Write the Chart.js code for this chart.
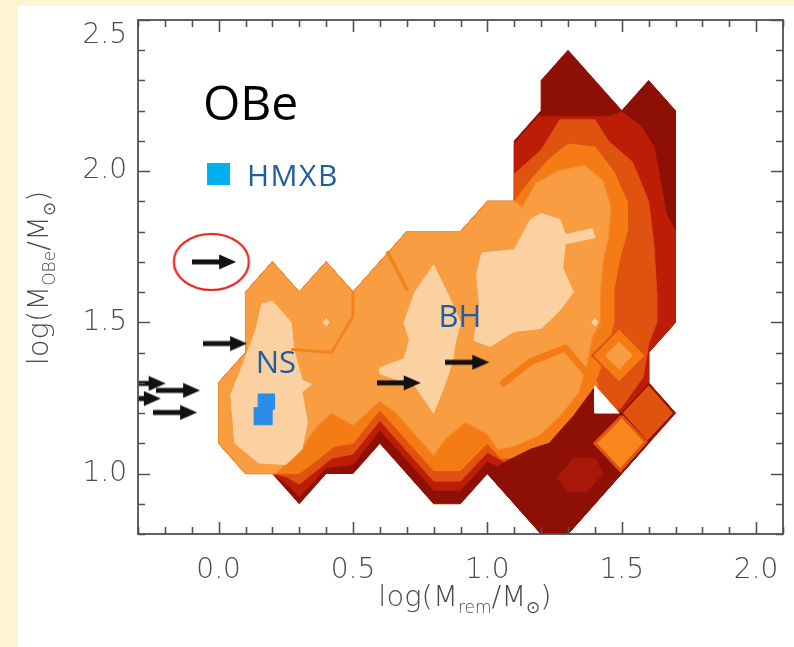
<!DOCTYPE html>
<html>
<head>
<meta charset="utf-8">
<script src="https://cdn.jsdelivr.net/npm/chart.js@4.4.1/dist/chart.umd.min.js"></script>
<style>
  html, body { margin: 0; padding: 0; background: #fff; }
  #wrap { position: relative; width: 794px; height: 647px; }
</style>
</head>
<body>
<div id="wrap"><canvas id="c"></canvas></div>
<script>
// ---- axes ----
const xRange = [-0.3, 2.1];
const yRange = [0.8, 2.5];
const xTickLabels = [0.0, 0.5, 1.0, 1.5, 2.0];
const yTickLabels = [1.0, 1.5, 2.0, 2.5];
const minorStep = 0.1;
const majorStep = 0.5;

// ---- density contours, log(M_rem) vs log(M_OBe), outermost level first ----
const levelMaroon = [[0.2,1.7],[0.3,1.6],[0.4,1.7],[0.5,1.6],[0.7,1.8],[0.9,1.8],[1.0,1.9],[1.1,1.9],[1.1,2.1],[1.2,2.2],[1.2,2.3],[1.3,2.4],[1.5,2.2],[1.6,2.3],[1.7,2.2],[1.7,1.5],[1.6,1.4],[1.6,1.3],[1.7,1.2],[1.3,0.8],[1.2,0.8],[1.0,1.0],[0.9,0.9],[0.8,0.9],[0.6,1.1],[0.5,1.0],[0.4,1.0],[0.3,0.9],[0.2,1.0],[0.1,1.0],[0.0,1.1],[0.0,1.3],[0.1,1.4],[0.1,1.6]];
const levelRed = [[0.2,1.7],[0.3,1.6],[0.4,1.7],[0.5,1.6],[0.7,1.8],[0.9,1.8],[1.0,1.9],[1.1,1.9],[1.1,2.09],[1.19,2.18],[1.28,2.18],[1.45,2.18],[1.5,2.195],[1.57,2.15],[1.62,2.08],[1.645,1.96],[1.665,1.86],[1.7,1.8],[1.7,1.5],[1.6,1.4],[1.6,1.3],[1.7,1.2],[1.45,1.1],[1.1,1.0],[1.0,1.04],[0.9,0.945],[0.8,0.945],[0.6,1.145],[0.5,1.03],[0.4,1.02],[0.34,0.96],[0.3,0.925],[0.26,0.96],[0.2,1.0],[0.1,1.0],[0.0,1.1],[0.0,1.3],[0.1,1.4],[0.1,1.6]];
const levelDark = [[0.2,1.7],[0.3,1.6],[0.4,1.7],[0.5,1.6],[0.7,1.8],[0.9,1.8],[1.0,1.9],[1.1,1.9],[1.1,1.99],[1.2,2.07],[1.27,2.17],[1.4,2.17],[1.45,2.1],[1.54,2.03],[1.6,1.9],[1.62,1.75],[1.63,1.6],[1.63,1.5],[1.6,1.43],[1.58,1.32],[1.5,1.22],[1.4,1.15],[1.1,1.02],[1.0,1.07],[0.9,0.975],[0.8,0.975],[0.6,1.175],[0.5,1.065],[0.42,1.05],[0.35,1.0],[0.3,0.965],[0.25,0.99],[0.2,1.0],[0.1,1.0],[0.0,1.1],[0.0,1.3],[0.1,1.4],[0.1,1.6]];
const levelOrange = [[0.2,1.7],[0.3,1.6],[0.4,1.7],[0.5,1.6],[0.7,1.8],[0.9,1.8],[1.0,1.9],[1.1,1.9],[1.16,1.97],[1.23,2.04],[1.3,2.09],[1.4,2.08],[1.47,2.0],[1.52,1.9],[1.52,1.8],[1.49,1.7],[1.47,1.6],[1.47,1.5],[1.45,1.42],[1.41,1.32],[1.35,1.2],[1.2,1.06],[1.05,1.05],[1.0,1.1],[0.9,1.01],[0.8,1.01],[0.6,1.21],[0.5,1.1],[0.43,1.09],[0.36,1.04],[0.3,1.0],[0.22,1.0],[0.1,1.0],[0.0,1.1],[0.0,1.3],[0.1,1.4],[0.1,1.6]];
const levelLight = [[0.2,1.7],[0.3,1.6],[0.4,1.7],[0.5,1.6],[0.7,1.8],[0.9,1.8],[1.0,1.9],[1.1,1.9],[1.13,1.88],[1.18,1.96],[1.26,2.0],[1.36,2.02],[1.43,1.97],[1.46,1.88],[1.45,1.78],[1.43,1.7],[1.42,1.6],[1.42,1.5],[1.39,1.45],[1.37,1.36],[1.34,1.27],[1.28,1.2],[1.2,1.13],[1.1,1.09],[1.04,1.08],[1.0,1.13],[0.92,1.17],[0.85,1.12],[0.8,1.06],[0.74,1.12],[0.66,1.2],[0.6,1.24],[0.5,1.16],[0.42,1.2],[0.36,1.15],[0.3,1.07],[0.21,1.0],[0.1,1.0],[0.0,1.1],[0.0,1.3],[0.1,1.4],[0.1,1.6]];
const peakNS = [[0.2,1.57],[0.27,1.5],[0.28,1.41],[0.31,1.31],[0.345,1.295],[0.31,1.27],[0.33,1.17],[0.31,1.08],[0.25,1.03],[0.15,1.035],[0.06,1.1],[0.045,1.26],[0.09,1.36],[0.14,1.48],[0.16,1.56]];
const peakBH1 = [[0.8,1.69],[0.86,1.58],[0.9,1.5],[0.88,1.43],[0.87,1.37],[0.84,1.29],[0.8,1.2],[0.73,1.29],[0.6,1.33],[0.6,1.35],[0.69,1.38],[0.71,1.44],[0.69,1.5],[0.73,1.6]];
const peakBH2 = [[0.98,1.73],[1.1,1.74],[1.16,1.84],[1.2,1.86],[1.27,1.84],[1.29,1.79],[1.39,1.81],[1.4,1.78],[1.29,1.76],[1.28,1.68],[1.32,1.6],[1.27,1.54],[1.2,1.48],[1.1,1.47],[1.01,1.42],[0.95,1.44],[0.97,1.56],[0.96,1.66]];
const ridgeNS = [[0.275,1.41],[0.42,1.40],[0.5,1.52],[0.5,1.6]];
const ridgeTop = [[0.63,1.73],[0.7,1.61]];
const ridgeBH = [[1.06,1.3],[1.16,1.37],[1.29,1.415],[1.39,1.31],[1.4,1.29]];
const tailMaroon = [[1.0,1.0],[1.2,0.8],[1.3,0.8],[1.6,1.1],[1.5,1.2],[1.4,1.2],[1.395,1.28],[1.32,1.19],[1.23,1.1],[1.16,1.08],[1.07,1.04]];
const tailRed = [[1.26,0.985],[1.32,1.05],[1.4,1.05],[1.43,1.0],[1.37,0.94],[1.3,0.94]];
const cellRight = [[1.6,1.295],[1.695,1.2],[1.595,1.105],[1.5,1.2]];
const cellLow = [[1.5,1.19],[1.59,1.105],[1.495,1.01],[1.4,1.1]];
const cellUp = [[1.49,1.48],[1.59,1.39],[1.49,1.3],[1.39,1.39]];
const cellUpCore = [[1.49,1.435],[1.54,1.39],[1.49,1.345],[1.44,1.39]];
const emptyCell = [[1.4,1.29],[1.4,1.2],[1.49,1.2]];
const dots = [[0.40,1.50],[1.40,1.50]];

// ---- observed HMXB and lower-limit arrows (arrow tip positions) ----
const hmxbUpper = [[0.147,1.263],[0.208,1.263],[0.208,1.213],[0.147,1.213]];
const hmxbLower = [[0.132,1.218],[0.198,1.218],[0.198,1.161],[0.132,1.161]];
const arrowTips = [[0.065,1.70],[0.106,1.43],[-0.197,1.298],[-0.069,1.275],[-0.215,1.248],[-0.080,1.202],[0.752,1.30],[1.007,1.368]];
const circledAt = [-0.027, 1.70];
const nsLabel = [0.138, 1.332];
const bhLabel = [0.818, 1.484];

const C = {
  maroon: '#8e1005', red: '#bd1d06', dark: '#df520f', orange: '#f57b14',
  light: '#f99d43', peach: '#fcd1a2', cell: '#f7861c', blue: '#2b8de8'
};

const layers = [];
function poly(pts, color, border, bw) {
  layers.push({
    data: pts.concat([pts[0]]).map(([x, y]) => ({x, y})),
    showLine: true, fill: 'shape', tension: 0,
    backgroundColor: color, borderColor: border || color, borderWidth: bw === undefined ? 1 : bw,
    pointRadius: 0
  });
}
function path(pts, color, bw) {
  layers.push({
    data: pts.map(([x, y]) => ({x, y})),
    showLine: true, fill: false, tension: 0,
    borderColor: color, borderWidth: bw, borderCapStyle: 'round', borderJoinStyle: 'round',
    pointRadius: 0
  });
}

poly(levelMaroon, C.maroon);
poly(levelRed, C.red);
poly(levelDark, C.dark);
poly(levelOrange, C.orange);
poly(levelLight, C.light, '#f3902f', 1.2);
poly(peakNS, C.peach);
poly(peakBH1, C.peach);
poly(peakBH2, C.peach);
path(ridgeNS, '#f2841f', 3);
path(ridgeTop, '#f2841f', 4);
path(ridgeBH, C.orange, 7);
poly(tailMaroon, C.maroon);
poly(tailRed, '#a9180a');
poly(cellRight, C.dark, C.maroon, 1.5);
poly(cellLow, C.cell, C.dark, 3);
poly(cellUp, C.orange, C.dark, 2);
poly(cellUpCore, C.light);
poly(emptyCell, '#ffffff');
dots.forEach(([x, y]) => poly([[x, y + 0.012], [x + 0.011, y], [x, y - 0.012], [x - 0.011, y]], C.peach));
poly(hmxbUpper, C.blue);
poly(hmxbLower, C.blue);

// layer i is painted before layer i+1
layers.forEach((d, i) => { d.order = layers.length - i + 10; });

// arrow marker: shaft + head, tip at the image centre
function makeArrow() {
  const L = 44, H = 16;
  const cv = document.createElement('canvas');
  cv.width = 2 * L; cv.height = H;
  const g = cv.getContext('2d');
  g.fillStyle = '#111';
  g.fillRect(0, H / 2 - 2.5, L - 15, 5);
  g.beginPath();
  g.moveTo(L - 17, 0.5); g.lineTo(L, H / 2); g.lineTo(L - 17, H - 0.5);
  g.closePath(); g.fill();
  return cv;
}
function makeRing() {
  const cv = document.createElement('canvas');
  cv.width = 82; cv.height = 62;
  const g = cv.getContext('2d');
  g.strokeStyle = '#e3231b'; g.lineWidth = 2.2;
  g.beginPath(); g.ellipse(41, 31, 37.5, 28, 0, 0, Math.PI * 2); g.stroke();
  return cv;
}

layers.push({
  data: [{x: circledAt[0], y: circledAt[1]}],
  pointStyle: makeRing(), pointRadius: 10, showLine: false, order: 2
});
layers.push({
  data: arrowTips.map(([x, y]) => ({x, y})),
  pointStyle: makeArrow(), pointRadius: 10, showLine: false, clip: 0, order: 1
});

const axisFont = {family: 'DejaVu Sans', size: 28, weight: 300};
const axisColor = '#4a4a4a';

const page = {
  id: 'page',
  beforeDraw(chart) {
    const {ctx, width, height} = chart;
    ctx.save();
    ctx.fillStyle = '#fdf5d2';
    ctx.fillRect(0, 0, width, height);
    ctx.fillStyle = '#ffffff';
    ctx.fillRect(18, 6, width - 18, height - 6);
    ctx.restore();
  }
};

const frame = {
  id: 'frame',
  afterDatasetsDraw(chart) {
    const {ctx, chartArea: a, scales: {x, y}} = chart;
    ctx.save();
    ctx.strokeStyle = '#505050';
    ctx.lineWidth = 1.6;
    ctx.beginPath();
    const isMajor = v => Math.abs(v / majorStep - Math.round(v / majorStep)) < 1e-6;
    const nx = Math.round((xRange[1] - xRange[0]) / minorStep);
    for (let i = 0; i <= nx; i++) {
      const v = xRange[0] + i * minorStep;
      const L = isMajor(v) ? 12 : 7;
      const p = Math.round(x.getPixelForValue(v)) + 0.5;
      ctx.moveTo(p, a.bottom); ctx.lineTo(p, a.bottom - L);
      ctx.moveTo(p, a.top); ctx.lineTo(p, a.top + L);
    }
    const ny = Math.round((yRange[1] - yRange[0]) / minorStep);
    for (let i = 0; i <= ny; i++) {
      const v = yRange[0] + i * minorStep;
      const L = isMajor(v) ? 12 : 7;
      const p = Math.round(y.getPixelForValue(v)) + 0.5;
      ctx.moveTo(a.left, p); ctx.lineTo(a.left + L, p);
      ctx.moveTo(a.right, p); ctx.lineTo(a.right - L, p);
    }
    ctx.stroke();
    ctx.lineWidth = 1.8;
    ctx.strokeRect(a.left, a.top, a.right - a.left, a.bottom - a.top);
    ctx.restore();
  }
};

function richText(ctx, parts, cx, baseY, angle) {
  let w = 0;
  parts.forEach(p => { ctx.font = `300 ${p[1]}px "DejaVu Sans"`; p.w = ctx.measureText(p[0]).width; w += p.w; });
  ctx.save();
  ctx.translate(cx, baseY);
  ctx.rotate(angle);
  let xx = -w / 2;
  parts.forEach(p => {
    ctx.font = `300 ${p[1]}px "DejaVu Sans"`;
    ctx.fillText(p[0], xx, p[2]);
    xx += p.w;
  });
  ctx.restore();
}

const notes = {
  id: 'notes',
  afterDraw(chart) {
    const {ctx, scales: {x, y}} = chart;
    ctx.save();
    ctx.textBaseline = 'alphabetic';
    ctx.textAlign = 'left';
    ctx.fillStyle = '#000';
    ctx.font = '48px "Open Sans"';
    ctx.fillText('OBe', 203, 120);
    ctx.fillStyle = '#00b0f0';
    ctx.fillRect(207, 163, 23, 22);
    ctx.fillStyle = '#1f5f9e';
    ctx.font = '30px "Open Sans"';
    ctx.letterSpacing = '1.5px';
    ctx.fillText('HMXB', 247, 186);
    ctx.letterSpacing = '0px';
    ctx.font = '31px "Open Sans"';
    ctx.fillText('NS', x.getPixelForValue(nsLabel[0]), y.getPixelForValue(nsLabel[1]));
    ctx.fillText('BH', x.getPixelForValue(bhLabel[0]), y.getPixelForValue(bhLabel[1]));
    ctx.fillStyle = axisColor;
    richText(ctx, [['log(M', 29, 0], ['rem', 17, 7], ['/M', 29, 0], ['\u2299', 17, 7], [')', 29, 0]], 465, 606, 0);
    richText(ctx, [['log(M', 29, 0], ['OBe', 17, 7], ['/M', 29, 0], ['\u2299', 17, 7], [')', 29, 0]], 48, 278, -Math.PI / 2);
    ctx.restore();
  }
};

new Chart(document.getElementById('c'), {
  type: 'scatter',
  data: { datasets: layers },
  options: {
    responsive: true,
    maintainAspectRatio: false,
    animation: false,
    events: [],
    layout: { padding: { top: 20, right: 3, left: 0, bottom: 0 } },
    plugins: { legend: { display: false }, tooltip: { enabled: false } },
    scales: {
      x: {
        type: 'linear', position: 'bottom', min: xRange[0], max: xRange[1],
        afterBuildTicks: s => { s.ticks = xTickLabels.map(v => ({value: v})); },
        afterFit: s => { s.height = 113; s.paddingLeft = 0; s.paddingRight = 0; },
        grid: { display: false, drawTicks: false },
        border: { display: false },
        ticks: { callback: v => Number(v).toFixed(1), font: axisFont, color: axisColor, padding: 20, maxRotation: 0, autoSkip: false }
      },
      y: {
        type: 'linear', position: 'left', min: yRange[0], max: yRange[1],
        afterBuildTicks: s => { s.ticks = yTickLabels.map(v => ({value: v})); },
        afterFit: s => { s.width = 138; s.paddingTop = 0; s.paddingBottom = 0; },
        grid: { display: false, drawTicks: false },
        border: { display: false },
        ticks: {
          callback: v => Math.abs(v - yRange[1]) < 1e-9 ? ['', Number(v).toFixed(1)] : Number(v).toFixed(1),
          font: Object.assign({}, axisFont, {lineHeight: 1.1}), color: axisColor, padding: 11, autoSkip: false
        }
      }
    }
  },
  plugins: [page, frame, notes]
});
</script>
</body>
</html>
